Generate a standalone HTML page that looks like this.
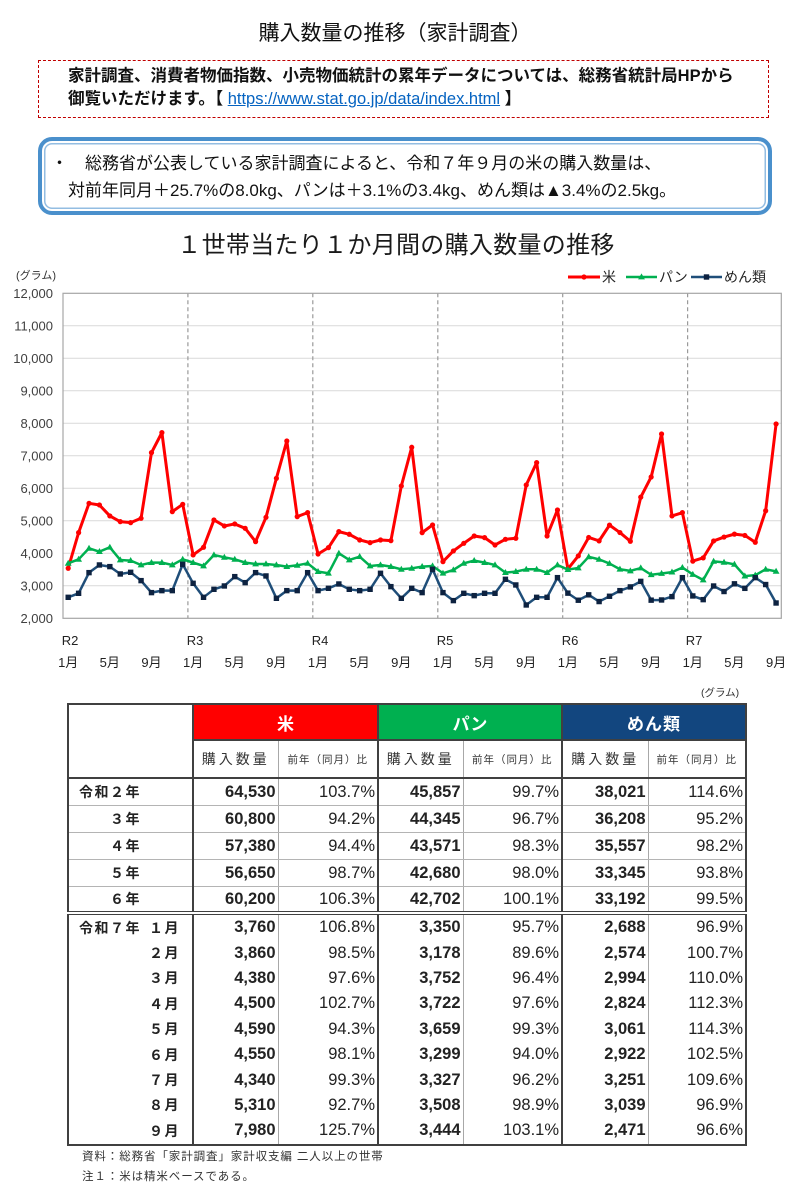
<!DOCTYPE html>
<html lang="ja">
<head>
<meta charset="utf-8">
<style>
html,body{margin:0;padding:0;background:#fff;}
body{width:805px;height:1200px;position:relative;overflow:hidden;font-family:"Liberation Sans","Noto Sans CJK JP",sans-serif;color:#111;}
.abs{position:absolute;}
#title{left:0;top:21px;width:790px;text-align:center;font-size:21px;line-height:26px;color:#111;}
#redbox{left:38px;top:60px;width:731px;height:58px;box-sizing:border-box;border:1.5px dashed #c00000;padding:4px 0 0 29px;font-size:16.5px;line-height:23px;font-weight:bold;color:#111;white-space:nowrap;}
#redbox .lnk{color:#0563c1;text-decoration:underline;font-weight:normal;font-size:16.5px;}
#bluebox{left:38px;top:137px;width:734px;height:78px;box-sizing:border-box;border:4px solid #4a90cc;border-radius:14px;box-shadow:inset 0 0 0 2px #fff,inset 0 0 0 3.5px #93bde2;}
.bt{font-size:17px;line-height:27px;color:#111;white-space:nowrap;}
table{position:absolute;left:67px;top:703px;width:678px;border-collapse:collapse;table-layout:fixed;border:2px solid #404040;}
td{padding:0;border-left:1px solid #a8a8a8;border-right:1px solid #a8a8a8;vertical-align:middle;color:#222;white-space:nowrap;overflow:hidden;}
td.L{border-left:2px solid #404040;}
tr.h1 td{height:34px;text-align:center;color:#fff;font-weight:bold;font-size:17px;border-bottom:2px solid #404040;}
tr.h2 td{height:36px;text-align:center;border-bottom:2px solid #404040;}
td.lab0{border-bottom:2px solid #404040;background:#fff;}
.q{font-size:14px;letter-spacing:3px;color:#333;}
.r{font-size:10.5px;letter-spacing:1px;color:#333;}
tr.a td{height:26px;border-bottom:1px solid #b4b4b4;}
tr.a.last td{border-bottom:4px double #404040;height:24px;}
tr.m td{height:25.4px;}
td.lb{font-weight:bold;font-size:14px;letter-spacing:1.5px;padding-left:10px;}
td.n{font-weight:bold;font-size:16.5px;text-align:right;padding-right:2px;}
td.p{font-size:16.5px;text-align:right;padding-right:2px;}
.hid{visibility:hidden;}
#notes{left:82px;top:1147px;font-size:11.5px;line-height:20px;letter-spacing:0.9px;color:#333;}
</style>
</head>
<body>

<div id="title" class="abs">購入数量の推移（家計調査）</div>

<div id="redbox" class="abs">家計調査、消費者物価指数、小売物価統計の累年データについては、総務省統計局HPから<br>御覧いただけます。【 <span class="lnk">https://www.stat.go.jp/data/index.html</span> 】</div>

<div id="bluebox" class="abs"></div>
<div class="abs bt" style="left:51px;top:150px;">・　総務省が公表している家計調査によると、令和７年９月の米の購入数量は、</div>
<div class="abs bt" style="left:68px;top:177px;">対前年同月＋25.7%の8.0kg、パンは＋3.1%の3.4kg、めん類は▲3.4%の2.5kg。</div>

<svg class="abs" style="left:0;top:0;" width="805" height="680" viewBox="0 0 805 680" xmlns="http://www.w3.org/2000/svg">
  <defs>
    <path id="c" d="M-2.6,0a2.6,2.6 0 1,0 5.2,0a2.6,2.6 0 1,0 -5.2,0Z" transform="scale(0.096061 -30.769)"/>
    <path id="t" d="M0,-3.6L3.4,2.4L-3.4,2.4Z" transform="scale(0.096061 -30.769)"/>
    <path id="s" d="M-2.7,-2.7H2.7V2.7H-2.7Z" transform="scale(0.096061 -30.769)"/>
  </defs>
  <text x="396" y="253" text-anchor="middle" font-family="Liberation Sans, Noto Sans CJK JP, sans-serif" font-size="24" letter-spacing="0.3" fill="#1a1a1a">１世帯当たり１か月間の購入数量の推移</text>
  <text x="16" y="279" font-family="Liberation Sans, Noto Sans CJK JP, sans-serif" font-size="11" fill="#333">(グラム)</text>

  <!-- legend -->
  <g font-family="Liberation Sans, Noto Sans CJK JP, sans-serif" font-size="14" fill="#222">
    <line x1="568" y1="277" x2="600" y2="277" stroke="#ff0000" stroke-width="3"/>
    <circle cx="584" cy="277" r="2.6" fill="#ff0000"/>
    <text x="602" y="282">米</text>
    <line x1="626" y1="277" x2="657" y2="277" stroke="#00b050" stroke-width="2.5"/>
    <path d="M641.5,273.4L644.9,279.4L638.1,279.4Z" fill="#00b050"/>
    <text x="659" y="282">パン</text>
    <line x1="691" y1="277" x2="722" y2="277" stroke="#1f4e79" stroke-width="2.5"/>
    <rect x="703.8" y="274.3" width="5.4" height="5.4" fill="#0d2240"/>
    <text x="724" y="282">めん類</text>
  </g>

  <!-- gridlines -->
  <g stroke="#d9d9d9" stroke-width="1">
    <line x1="63" y1="325.8" x2="781.3" y2="325.8"/>
    <line x1="63" y1="358.3" x2="781.3" y2="358.3"/>
    <line x1="63" y1="390.8" x2="781.3" y2="390.8"/>
    <line x1="63" y1="423.3" x2="781.3" y2="423.3"/>
    <line x1="63" y1="455.8" x2="781.3" y2="455.8"/>
    <line x1="63" y1="488.3" x2="781.3" y2="488.3"/>
    <line x1="63" y1="520.8" x2="781.3" y2="520.8"/>
    <line x1="63" y1="553.3" x2="781.3" y2="553.3"/>
    <line x1="63" y1="585.8" x2="781.3" y2="585.8"/>
  </g>
  <g stroke="#9a9a9a" stroke-width="1.2" stroke-dasharray="4,3">
    <line x1="187.9" y1="293.3" x2="187.9" y2="618.3"/>
    <line x1="312.8" y1="293.3" x2="312.8" y2="618.3"/>
    <line x1="437.8" y1="293.3" x2="437.8" y2="618.3"/>
    <line x1="562.7" y1="293.3" x2="562.7" y2="618.3"/>
    <line x1="687.6" y1="293.3" x2="687.6" y2="618.3"/>
  </g>
  <rect x="63" y="293.3" width="718.3" height="325" fill="none" stroke="#a6a6a6" stroke-width="1.2"/>

  <!-- y labels -->
  <g font-family="Liberation Sans, Noto Sans CJK JP, sans-serif" font-size="13" fill="#404040" text-anchor="end">
    <text x="53" y="297.8">12,000</text>
    <text x="53" y="330.3">11,000</text>
    <text x="53" y="362.8">10,000</text>
    <text x="53" y="395.3">9,000</text>
    <text x="53" y="427.8">8,000</text>
    <text x="53" y="460.3">7,000</text>
    <text x="53" y="492.8">6,000</text>
    <text x="53" y="525.3">5,000</text>
    <text x="53" y="557.8">4,000</text>
    <text x="53" y="590.3">3,000</text>
    <text x="53" y="622.8">2,000</text>
  </g>

  <!-- x labels -->
  <g font-family="Liberation Sans, Noto Sans CJK JP, sans-serif" font-size="13" fill="#222" text-anchor="middle">
    <text x="70" y="645">R2</text>
    <text x="195" y="645">R3</text>
    <text x="320" y="645">R4</text>
    <text x="445" y="645">R5</text>
    <text x="570" y="645">R6</text>
    <text x="694" y="645">R7</text>
    <text x="68.2" y="667">1月</text><text x="109.8" y="667">5月</text><text x="151.5" y="667">9月</text>
    <text x="193.1" y="667">1月</text><text x="234.8" y="667">5月</text><text x="276.4" y="667">9月</text>
    <text x="318.0" y="667">1月</text><text x="359.7" y="667">5月</text><text x="401.3" y="667">9月</text>
    <text x="443.0" y="667">1月</text><text x="484.6" y="667">5月</text><text x="526.2" y="667">9月</text>
    <text x="567.9" y="667">1月</text><text x="609.5" y="667">5月</text><text x="651.2" y="667">9月</text>
    <text x="692.8" y="667">1月</text><text x="734.4" y="667">5月</text><text x="776.1" y="667">9月</text>
  </g>

  <!-- series -->
  <g transform="translate(68.2 683.3) scale(10.41 -0.0325)">
    <polyline fill="none" stroke="#ff0000" stroke-width="3" vector-effect="non-scaling-stroke" stroke-linejoin="round" points="0,3540 1,4636 2,5538 3,5487 4,5149 5,4974 6,4944 7,5077 8,7097 9,7713 10,5282 11,5508 12,3949 13,4185 14,5026 15,4841 16,4903 17,4769 18,4359 19,5108 20,6308 21,7456 22,5128 23,5251 24,3979 25,4174 26,4667 27,4585 28,4410 29,4328 30,4410 31,4390 32,6072 33,7262 34,4636 35,4872 36,3744 37,4072 38,4308 39,4533 40,4482 41,4256 42,4431 43,4462 44,6103 45,6790 46,4533 47,5333 48,3520 49,3919 50,4488 51,4382 52,4867 53,4638 54,4371 55,5728 56,6348 57,7672 58,5149 59,5251 60,3760 61,3860 62,4380 63,4500 64,4590 65,4550 66,4340 67,5310 68,7980"/>
    <g fill="#ff0000">
      <use href="#c" x="0" y="3540"/><use href="#c" x="1" y="4636"/><use href="#c" x="2" y="5538"/><use href="#c" x="3" y="5487"/><use href="#c" x="4" y="5149"/><use href="#c" x="5" y="4974"/><use href="#c" x="6" y="4944"/><use href="#c" x="7" y="5077"/><use href="#c" x="8" y="7097"/><use href="#c" x="9" y="7713"/><use href="#c" x="10" y="5282"/><use href="#c" x="11" y="5508"/>
      <use href="#c" x="12" y="3949"/><use href="#c" x="13" y="4185"/><use href="#c" x="14" y="5026"/><use href="#c" x="15" y="4841"/><use href="#c" x="16" y="4903"/><use href="#c" x="17" y="4769"/><use href="#c" x="18" y="4359"/><use href="#c" x="19" y="5108"/><use href="#c" x="20" y="6308"/><use href="#c" x="21" y="7456"/><use href="#c" x="22" y="5128"/><use href="#c" x="23" y="5251"/>
      <use href="#c" x="24" y="3979"/><use href="#c" x="25" y="4174"/><use href="#c" x="26" y="4667"/><use href="#c" x="27" y="4585"/><use href="#c" x="28" y="4410"/><use href="#c" x="29" y="4328"/><use href="#c" x="30" y="4410"/><use href="#c" x="31" y="4390"/><use href="#c" x="32" y="6072"/><use href="#c" x="33" y="7262"/><use href="#c" x="34" y="4636"/><use href="#c" x="35" y="4872"/>
      <use href="#c" x="36" y="3744"/><use href="#c" x="37" y="4072"/><use href="#c" x="38" y="4308"/><use href="#c" x="39" y="4533"/><use href="#c" x="40" y="4482"/><use href="#c" x="41" y="4256"/><use href="#c" x="42" y="4431"/><use href="#c" x="43" y="4462"/><use href="#c" x="44" y="6103"/><use href="#c" x="45" y="6790"/><use href="#c" x="46" y="4533"/><use href="#c" x="47" y="5333"/>
      <use href="#c" x="48" y="3520"/><use href="#c" x="49" y="3919"/><use href="#c" x="50" y="4488"/><use href="#c" x="51" y="4382"/><use href="#c" x="52" y="4867"/><use href="#c" x="53" y="4638"/><use href="#c" x="54" y="4371"/><use href="#c" x="55" y="5728"/><use href="#c" x="56" y="6348"/><use href="#c" x="57" y="7672"/><use href="#c" x="58" y="5149"/><use href="#c" x="59" y="5251"/>
      <use href="#c" x="60" y="3760"/><use href="#c" x="61" y="3860"/><use href="#c" x="62" y="4380"/><use href="#c" x="63" y="4500"/><use href="#c" x="64" y="4590"/><use href="#c" x="65" y="4550"/><use href="#c" x="66" y="4340"/><use href="#c" x="67" y="5310"/><use href="#c" x="68" y="7980"/>
    </g>

    <polyline fill="none" stroke="#00b050" stroke-width="2.5" vector-effect="non-scaling-stroke" stroke-linejoin="round" points="0,3692 1,3815 2,4154 3,4051 4,4185 5,3795 6,3774 7,3641 8,3713 9,3713 10,3641 11,3815 12,3713 13,3610 14,3949 15,3877 16,3815 17,3713 18,3672 19,3672 20,3641 21,3590 22,3631 23,3692 24,3436 25,3385 26,4000 27,3795 28,3897 29,3610 30,3641 31,3590 32,3508 33,3538 34,3590 35,3610 36,3385 37,3487 38,3692 39,3774 40,3713 41,3641 42,3405 43,3436 44,3508 45,3508 46,3405 47,3641 48,3500 49,3547 50,3892 51,3813 52,3685 53,3510 54,3458 55,3547 56,3340 57,3380 58,3420 59,3560 60,3350 61,3178 62,3752 63,3722 64,3659 65,3299 66,3327 67,3508 68,3444"/>
    <g fill="#00b050">
      <use href="#t" x="0" y="3692"/><use href="#t" x="1" y="3815"/><use href="#t" x="2" y="4154"/><use href="#t" x="3" y="4051"/><use href="#t" x="4" y="4185"/><use href="#t" x="5" y="3795"/><use href="#t" x="6" y="3774"/><use href="#t" x="7" y="3641"/><use href="#t" x="8" y="3713"/><use href="#t" x="9" y="3713"/><use href="#t" x="10" y="3641"/><use href="#t" x="11" y="3815"/>
      <use href="#t" x="12" y="3713"/><use href="#t" x="13" y="3610"/><use href="#t" x="14" y="3949"/><use href="#t" x="15" y="3877"/><use href="#t" x="16" y="3815"/><use href="#t" x="17" y="3713"/><use href="#t" x="18" y="3672"/><use href="#t" x="19" y="3672"/><use href="#t" x="20" y="3641"/><use href="#t" x="21" y="3590"/><use href="#t" x="22" y="3631"/><use href="#t" x="23" y="3692"/>
      <use href="#t" x="24" y="3436"/><use href="#t" x="25" y="3385"/><use href="#t" x="26" y="4000"/><use href="#t" x="27" y="3795"/><use href="#t" x="28" y="3897"/><use href="#t" x="29" y="3610"/><use href="#t" x="30" y="3641"/><use href="#t" x="31" y="3590"/><use href="#t" x="32" y="3508"/><use href="#t" x="33" y="3538"/><use href="#t" x="34" y="3590"/><use href="#t" x="35" y="3610"/>
      <use href="#t" x="36" y="3385"/><use href="#t" x="37" y="3487"/><use href="#t" x="38" y="3692"/><use href="#t" x="39" y="3774"/><use href="#t" x="40" y="3713"/><use href="#t" x="41" y="3641"/><use href="#t" x="42" y="3405"/><use href="#t" x="43" y="3436"/><use href="#t" x="44" y="3508"/><use href="#t" x="45" y="3508"/><use href="#t" x="46" y="3405"/><use href="#t" x="47" y="3641"/>
      <use href="#t" x="48" y="3500"/><use href="#t" x="49" y="3547"/><use href="#t" x="50" y="3892"/><use href="#t" x="51" y="3813"/><use href="#t" x="52" y="3685"/><use href="#t" x="53" y="3510"/><use href="#t" x="54" y="3458"/><use href="#t" x="55" y="3547"/><use href="#t" x="56" y="3340"/><use href="#t" x="57" y="3380"/><use href="#t" x="58" y="3420"/><use href="#t" x="59" y="3560"/>
      <use href="#t" x="60" y="3350"/><use href="#t" x="61" y="3178"/><use href="#t" x="62" y="3752"/><use href="#t" x="63" y="3722"/><use href="#t" x="64" y="3659"/><use href="#t" x="65" y="3299"/><use href="#t" x="66" y="3327"/><use href="#t" x="67" y="3508"/><use href="#t" x="68" y="3444"/>
    </g>

    <polyline fill="none" stroke="#1f4e79" stroke-width="2.5" vector-effect="non-scaling-stroke" stroke-linejoin="round" points="0,2646 1,2769 2,3405 3,3641 4,3590 5,3364 6,3415 7,3159 8,2790 9,2851 10,2851 11,3662 12,3077 13,2646 14,2892 15,2995 16,3282 17,3097 18,3405 19,3303 20,2615 21,2851 22,2851 23,3405 24,2851 25,2923 26,3056 27,2892 28,2851 29,2892 30,3385 31,2974 32,2615 33,2923 34,2790 35,3508 36,2790 37,2544 38,2769 39,2697 40,2769 41,2769 42,3200 43,3026 44,2410 45,2646 46,2646 47,3251 48,2774 49,2556 50,2722 51,2515 52,2678 53,2851 54,2966 55,3136 56,2558 57,2564 58,2667 59,3251 60,2688 61,2574 62,2994 63,2824 64,3061 65,2922 66,3251 67,3039 68,2471"/>
    <g fill="#0d2240">
      <use href="#s" x="0" y="2646"/><use href="#s" x="1" y="2769"/><use href="#s" x="2" y="3405"/><use href="#s" x="3" y="3641"/><use href="#s" x="4" y="3590"/><use href="#s" x="5" y="3364"/><use href="#s" x="6" y="3415"/><use href="#s" x="7" y="3159"/><use href="#s" x="8" y="2790"/><use href="#s" x="9" y="2851"/><use href="#s" x="10" y="2851"/><use href="#s" x="11" y="3662"/>
      <use href="#s" x="12" y="3077"/><use href="#s" x="13" y="2646"/><use href="#s" x="14" y="2892"/><use href="#s" x="15" y="2995"/><use href="#s" x="16" y="3282"/><use href="#s" x="17" y="3097"/><use href="#s" x="18" y="3405"/><use href="#s" x="19" y="3303"/><use href="#s" x="20" y="2615"/><use href="#s" x="21" y="2851"/><use href="#s" x="22" y="2851"/><use href="#s" x="23" y="3405"/>
      <use href="#s" x="24" y="2851"/><use href="#s" x="25" y="2923"/><use href="#s" x="26" y="3056"/><use href="#s" x="27" y="2892"/><use href="#s" x="28" y="2851"/><use href="#s" x="29" y="2892"/><use href="#s" x="30" y="3385"/><use href="#s" x="31" y="2974"/><use href="#s" x="32" y="2615"/><use href="#s" x="33" y="2923"/><use href="#s" x="34" y="2790"/><use href="#s" x="35" y="3508"/>
      <use href="#s" x="36" y="2790"/><use href="#s" x="37" y="2544"/><use href="#s" x="38" y="2769"/><use href="#s" x="39" y="2697"/><use href="#s" x="40" y="2769"/><use href="#s" x="41" y="2769"/><use href="#s" x="42" y="3200"/><use href="#s" x="43" y="3026"/><use href="#s" x="44" y="2410"/><use href="#s" x="45" y="2646"/><use href="#s" x="46" y="2646"/><use href="#s" x="47" y="3251"/>
      <use href="#s" x="48" y="2774"/><use href="#s" x="49" y="2556"/><use href="#s" x="50" y="2722"/><use href="#s" x="51" y="2515"/><use href="#s" x="52" y="2678"/><use href="#s" x="53" y="2851"/><use href="#s" x="54" y="2966"/><use href="#s" x="55" y="3136"/><use href="#s" x="56" y="2558"/><use href="#s" x="57" y="2564"/><use href="#s" x="58" y="2667"/><use href="#s" x="59" y="3251"/>
      <use href="#s" x="60" y="2688"/><use href="#s" x="61" y="2574"/><use href="#s" x="62" y="2994"/><use href="#s" x="63" y="2824"/><use href="#s" x="64" y="3061"/><use href="#s" x="65" y="2922"/><use href="#s" x="66" y="3251"/><use href="#s" x="67" y="3039"/><use href="#s" x="68" y="2471"/>
    </g>
  </g>
</svg>

<div class="abs" style="left:701px;top:686px;font-size:10.5px;line-height:14px;color:#333;">(グラム)</div>

<table>
<colgroup><col style="width:125px"><col style="width:85px"><col style="width:100px"><col style="width:85px"><col style="width:99px"><col style="width:86px"><col style="width:98px"></colgroup>
<tr class="h1">
  <td class="lab0" rowspan="2"></td>
  <td class="L" colspan="2" style="background:#ff0000;">米</td>
  <td class="L" colspan="2" style="background:#00b050;">パン</td>
  <td class="L" colspan="2" style="background:#12467f;letter-spacing:1px;">めん類</td>
</tr>
<tr class="h2">
  <td class="L"><span class="q">購入数量</span></td><td><span class="r">前年（同月）比</span></td>
  <td class="L"><span class="q">購入数量</span></td><td><span class="r">前年（同月）比</span></td>
  <td class="L"><span class="q">購入数量</span></td><td><span class="r">前年（同月）比</span></td>
</tr>
<tr class="a"><td class="lb">令和２年</td><td class="L n">64,530</td><td class="p">103.7%</td><td class="L n">45,857</td><td class="p">99.7%</td><td class="L n">38,021</td><td class="p">114.6%</td></tr>
<tr class="a"><td class="lb"><span class="hid">令和</span>３年</td><td class="L n">60,800</td><td class="p">94.2%</td><td class="L n">44,345</td><td class="p">96.7%</td><td class="L n">36,208</td><td class="p">95.2%</td></tr>
<tr class="a"><td class="lb"><span class="hid">令和</span>４年</td><td class="L n">57,380</td><td class="p">94.4%</td><td class="L n">43,571</td><td class="p">98.3%</td><td class="L n">35,557</td><td class="p">98.2%</td></tr>
<tr class="a"><td class="lb"><span class="hid">令和</span>５年</td><td class="L n">56,650</td><td class="p">98.7%</td><td class="L n">42,680</td><td class="p">98.0%</td><td class="L n">33,345</td><td class="p">93.8%</td></tr>
<tr class="a last"><td class="lb"><span class="hid">令和</span>６年</td><td class="L n">60,200</td><td class="p">106.3%</td><td class="L n">42,702</td><td class="p">100.1%</td><td class="L n">33,192</td><td class="p">99.5%</td></tr>
<tr class="m"><td class="lb">令和７年<span style="margin-left:8px;">１月</span></td><td class="L n">3,760</td><td class="p">106.8%</td><td class="L n">3,350</td><td class="p">95.7%</td><td class="L n">2,688</td><td class="p">96.9%</td></tr>
<tr class="m"><td class="lb"><span class="hid">令和７年</span><span style="margin-left:8px;">２月</span></td><td class="L n">3,860</td><td class="p">98.5%</td><td class="L n">3,178</td><td class="p">89.6%</td><td class="L n">2,574</td><td class="p">100.7%</td></tr>
<tr class="m"><td class="lb"><span class="hid">令和７年</span><span style="margin-left:8px;">３月</span></td><td class="L n">4,380</td><td class="p">97.6%</td><td class="L n">3,752</td><td class="p">96.4%</td><td class="L n">2,994</td><td class="p">110.0%</td></tr>
<tr class="m"><td class="lb"><span class="hid">令和７年</span><span style="margin-left:8px;">４月</span></td><td class="L n">4,500</td><td class="p">102.7%</td><td class="L n">3,722</td><td class="p">97.6%</td><td class="L n">2,824</td><td class="p">112.3%</td></tr>
<tr class="m"><td class="lb"><span class="hid">令和７年</span><span style="margin-left:8px;">５月</span></td><td class="L n">4,590</td><td class="p">94.3%</td><td class="L n">3,659</td><td class="p">99.3%</td><td class="L n">3,061</td><td class="p">114.3%</td></tr>
<tr class="m"><td class="lb"><span class="hid">令和７年</span><span style="margin-left:8px;">６月</span></td><td class="L n">4,550</td><td class="p">98.1%</td><td class="L n">3,299</td><td class="p">94.0%</td><td class="L n">2,922</td><td class="p">102.5%</td></tr>
<tr class="m"><td class="lb"><span class="hid">令和７年</span><span style="margin-left:8px;">７月</span></td><td class="L n">4,340</td><td class="p">99.3%</td><td class="L n">3,327</td><td class="p">96.2%</td><td class="L n">3,251</td><td class="p">109.6%</td></tr>
<tr class="m"><td class="lb"><span class="hid">令和７年</span><span style="margin-left:8px;">８月</span></td><td class="L n">5,310</td><td class="p">92.7%</td><td class="L n">3,508</td><td class="p">98.9%</td><td class="L n">3,039</td><td class="p">96.9%</td></tr>
<tr class="m"><td class="lb"><span class="hid">令和７年</span><span style="margin-left:8px;">９月</span></td><td class="L n">7,980</td><td class="p">125.7%</td><td class="L n">3,444</td><td class="p">103.1%</td><td class="L n">2,471</td><td class="p">96.6%</td></tr>
</table>

<div id="notes" class="abs">資料：総務省「家計調査」家計収支編 二人以上の世帯<br>注１：米は精米ベースである。</div>

</body>
</html>
